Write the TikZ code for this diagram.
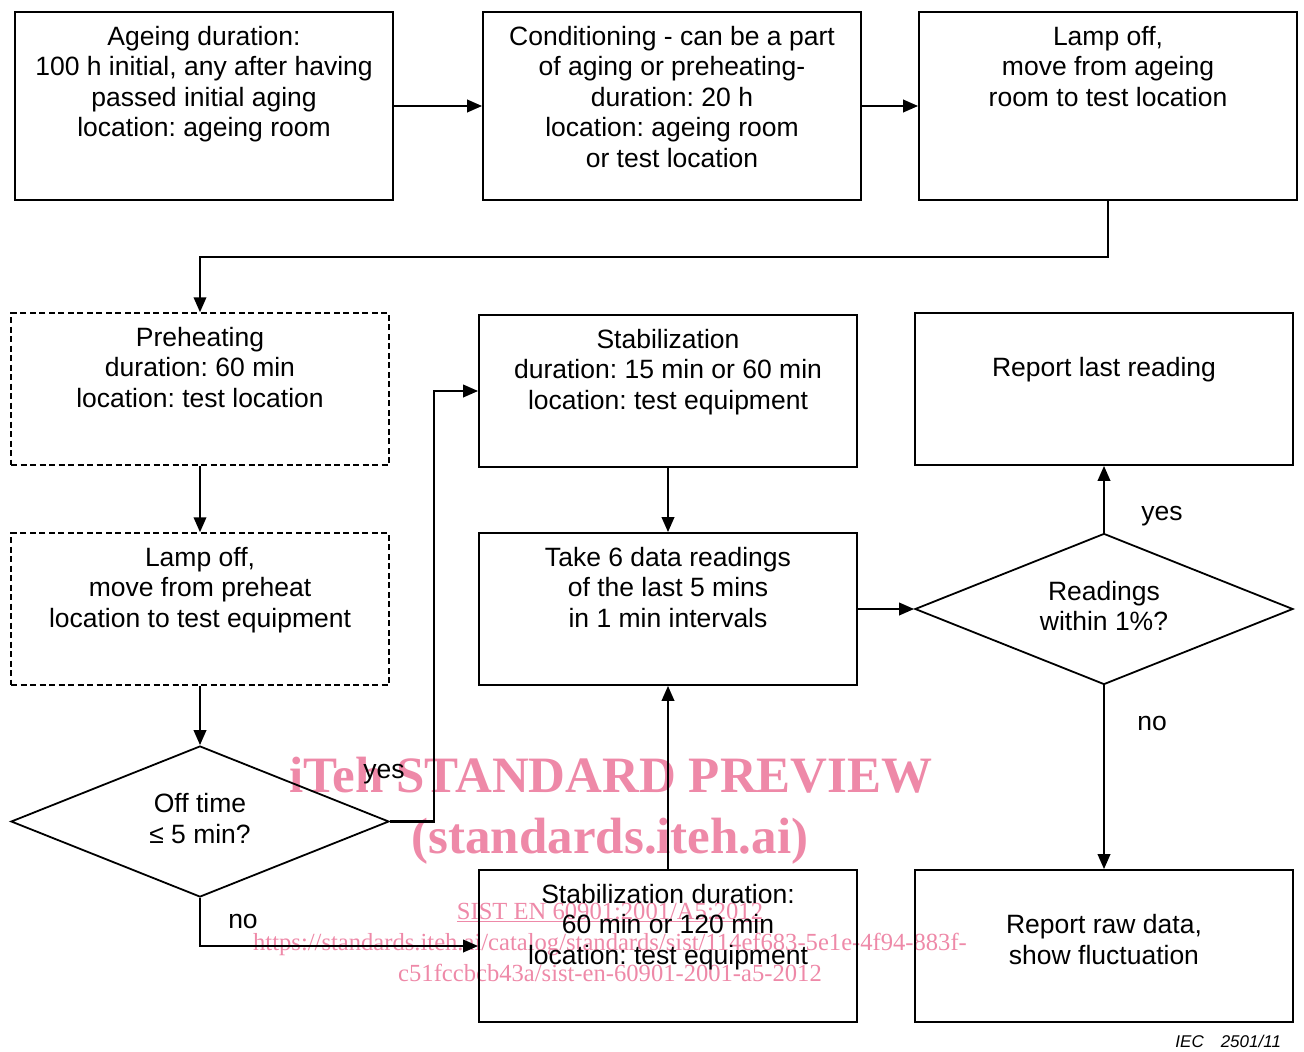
\documentclass[tikz,border=0pt]{standalone}
\usepackage{fontspec}
\setmainfont{Liberation Sans}
\newfontfamily\wmfont{Liberation Serif}
\usepackage{xcolor}
\usepackage{tikz}
\usetikzlibrary{arrows.meta,shapes.geometric}
\frenchspacing

\definecolor{wmpink}{RGB}{238,137,168}
% box text, top aligned: [baseline offset]{box height}{lines}
\newcommand{\boxtext}[3][33pt]{\parbox[c][#2][t]{370pt}{\centering\rule{0pt}{#1}#3\par}}

\begin{document}
\begin{tikzpicture}[
  x=1pt, y=-1pt,
  every node/.style={font=\fontsize{26.5}{30.5}\selectfont},
  box/.style={draw, line width=1.8pt, inner sep=0pt, minimum width=378pt},
  dbox/.style={box, line width=1.5pt, dash pattern=on 6pt off 3.5pt},
  test/.style={draw, diamond, aspect=2.5, line width=1.8pt, inner sep=0pt,
    minimum width=378pt, minimum height=151pt, align=center},
  lbl/.style={anchor=base},
  wm/.style={text=wmpink, anchor=base},
  >={Triangle[length=15pt,width=12.5pt]}, line width=2.2pt
]
\useasboundingbox (0,0) rectangle (1304,1052);

% watermark
\node[wm, font=\wmfont\bfseries\fontsize{51}{55}\selectfont] (wm1) at (611,792) {iTeh STANDARD PREVIEW};
\node[wm, font=\wmfont\bfseries\fontsize{51}{55}\selectfont] (wm2) at (610,853) {(standards.iteh.ai)};
\node[wm, font=\wmfont\fontsize{24.6}{28}\selectfont] (wm3) at (610,919) {\underline{SIST EN 60901:2001/A5:2012}};
\node[wm, font=\wmfont\fontsize{24.6}{28}\selectfont] (wm4) at (610,950) {https://standards.iteh.ai/catalog/standards/sist/114ef683-5e1e-4f94-883f-};
\node[wm, font=\wmfont\fontsize{24.6}{28}\selectfont] (wm5) at (610,981) {c51fccbcb43a/sist-en-60901-2001-a5-2012};

% top row
\node[box] (ageing) at (204,106) {\boxtext{188pt}{Ageing duration:\\100 h initial, any after having\\passed initial aging\\location: ageing room}};
\node[box] (cond) at (672,106) {\boxtext{188pt}{Conditioning - can be a part\\of aging or preheating-\\duration: 20 h\\location: ageing room\\or test location}};
\node[box] (lamp1) at (1108,106) {\boxtext{188pt}{Lamp off,\\move from ageing\\room to test location}};

% left column
\node[dbox] (preheat) at (200,389) {\boxtext{152pt}{Preheating\\duration: 60 min\\location: test location}};
\node[dbox] (lamp2) at (200,609) {\boxtext{152pt}{Lamp off,\\move from preheat\\location to test equipment}};
\node[test] (offtime) at (200,821.5) {Off time\\≤ 5 min?\rule[-6pt]{0pt}{0pt}};

% middle column
\node[box] (stab1) at (668,391) {\boxtext{152pt}{Stabilization\\duration: 15 min or 60 min\\location: test equipment}};
\node[box] (readings) at (668,609) {\boxtext{152pt}{Take 6 data readings\\of the last 5 mins\\in 1 min intervals}};
\node[box] (stab2) at (668,946) {\boxtext{152pt}{Stabilization duration:\\60 min or 120 min\\location: test equipment}};

% right column
\node[box] (reportlast) at (1104,389) {\boxtext[63.5pt]{152pt}{Report last reading}};
\node[test] (within) at (1104,609) {Readings\\within 1\%?\rule[-6pt]{0pt}{0pt}};
\node[box] (reportraw) at (1104,946) {\boxtext[63.5pt]{152pt}{Report raw data,\\show fluctuation}};

% labels
\node[lbl] (yes1) at (384,778) {yes};
\node[lbl] (no1) at (243,928) {no};
\node[lbl] (yes2) at (1162,520) {yes};
\node[lbl] (no2) at (1152,730) {no};
\node[anchor=base west, font=\itshape\fontsize{17}{20}\selectfont] (iec) at (1171,1047) {IEC\hspace{17pt}2501/11};

\draw[->] (ageing) -- (cond);
\draw[->] (cond) -- (lamp1);
\draw[->] (lamp1.south) -- ++(0,56) -| (preheat.north);
\draw[->] (preheat) -- (lamp2);
\draw[->] (lamp2) -- (offtime);
\draw[->] (offtime.east) -- ++(44,0) |- (stab1.west);
\draw[->] (offtime.south) |- (stab2.west);
\draw[->] (stab1) -- (readings);
\draw[->] (stab2) -- (readings);
\draw[->] (readings) -- (within);
\draw[->] (within) -- (reportlast);
\draw[->] (within) -- (reportraw);
\end{tikzpicture}
\end{document}
